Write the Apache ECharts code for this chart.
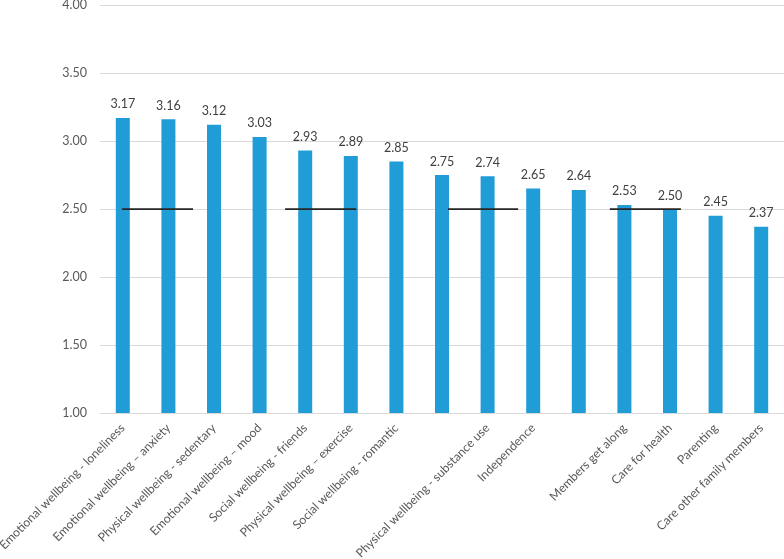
<!DOCTYPE html>
<html>
<head>
<meta charset="utf-8">
<script src="https://cdn.jsdelivr.net/npm/echarts@6/dist/echarts.min.js"></script>
<style>html,body{margin:0;padding:0;background:#fff}#c{width:784px;height:559px}</style>
</head>
<body>
<div id="c"></div>
<script>
const categories = [
  "Emotional wellbeing - loneliness",
  "Emotional wellbeing \u2013 anxiety",
  "Physical wellbeing - sedentary",
  "Emotional wellbeing \u2013 mood",
  "Social wellbeing - friends",
  "Physical wellbeing \u2013 exercise",
  "Social wellbeing - romantic",
  " ",
  "Physical wellbeing - substance use",
  "Independence",
  "  ",
  "Members get along",
  "Care for health",
  "Parenting",
  "Care other family members"
];
const values = [3.17, 3.16, 3.12, 3.03, 2.93, 2.89, 2.85, 2.75, 2.74, 2.65, 2.64, 2.53, 2.50, 2.45, 2.37];
const yTicks = [1.0, 1.5, 2.0, 2.5, 3.0, 3.5, 4.0];
const refValue = 2.5;
const refSegStart = [-0.02, 3.56, 7.13, 10.68];
const refSegEnd = [1.54, 5.12, 8.67, 12.24];

const refData = [];
refSegStart.forEach((s, i) => {
  refData.push([s, refValue]);
  refData.push([refSegEnd[i], refValue]);
  if (i < refSegStart.length - 1) refData.push([(refSegEnd[i] + refSegStart[i + 1]) / 2, '-']);
});

const font = 'Lato';
const chart = echarts.init(document.getElementById('c'), null, {renderer: 'canvas'});
chart.setOption({
  animation: false,
  grid: {left: 100, right: 0, top: 5, bottom: 146, containLabel: false, outerBoundsMode: 'none'},
  xAxis: [{
    type: 'category',
    data: categories,
    axisLine: {show: true, lineStyle: {color: '#d9d9d9', width: 1}},
    axisTick: {show: false},
    axisLabel: {rotate: 45, interval: 0, margin: 13, color: '#595959', fontFamily: font, fontSize: 12.2}
  }, {
    type: 'value', min: -0.5, max: 14.5, show: false
  }],
  yAxis: {
    type: 'value',
    min: yTicks[0], max: yTicks[yTicks.length - 1], interval: 0.5,
    axisLine: {show: false}, axisTick: {show: false},
    axisLabel: {margin: 13, color: '#595959', fontFamily: font, fontSize: 12.5, formatter: v => v.toFixed(2)},
    splitLine: {lineStyle: {color: '#d9d9d9', width: 1}}
  },
  series: [{
    type: 'bar',
    data: values,
    barWidth: 14,
    itemStyle: {color: '#209dd7'},
    label: {show: true, position: 'top', distance: 7, color: '#404040', fontFamily: font, fontSize: 12.5, formatter: p => p.value.toFixed(2)}
  }, {
    type: 'line',
    xAxisIndex: 1,
    data: refData,
    symbol: 'none',
    connectNulls: false,
    lineStyle: {color: '#262626', width: 1.75},
    z: 5
  }]
});
</script>
</body>
</html>
